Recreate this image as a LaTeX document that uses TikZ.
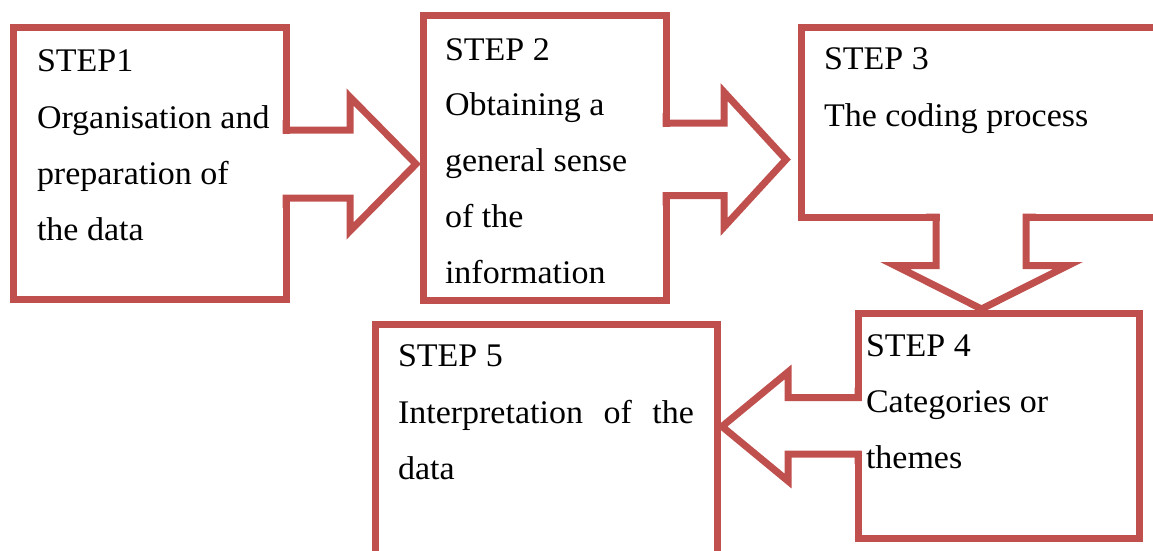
\documentclass[tikz,border=0pt]{standalone}
\usepackage{fontspec}
\setmainfont{Liberation Serif}[FakeStretch=1.03]
\usetikzlibrary{calc}
\definecolor{boxred}{HTML}{C0504D}
\tikzset{
  stepbox/.style={draw=boxred, line width=7pt, rectangle, inner sep=0pt, outer sep=0pt, fill=white},
  steptext/.style={anchor=base west, inner sep=0pt, outer sep=0pt, font=\fontsize{33}{56.3}\selectfont, text=black},
  blockarrow/.style={draw=boxred, line width=7pt, miter limit=20},
  gapfill/.style={fill=white},
}
\newcommand\steplines[1]{\vtop{\baselineskip=56.3pt #1}}
\begin{document}
\begin{tikzpicture}[x=1pt,y=-1pt]
\useasboundingbox (0,0) rectangle (1153,551);
\clip (0,0) rectangle (1153,551);
% boxes
\node[stepbox, minimum width=273pt, minimum height=271pt] (s1) at (149.5,163.5) {};
\node[stepbox, minimum width=243pt, minimum height=284pt] (s2) at (544.5,158) {};
\node[stepbox, minimum width=374pt, minimum height=189pt] (s3) at (988,122.5) {};
\node[stepbox, minimum width=281pt, minimum height=225pt] (s4) at (998.5,425.5) {};
\node[stepbox, minimum width=342pt, minimum height=251pt] (s5) at (546,449.5) {};
% arrow tips
\coordinate (a1tip) at (416,164);
\coordinate (a2tip) at (786,159.5);
\coordinate (a3tip) at (981.5,309);
\coordinate (a4tip) at (722,426.5);
% arrow 1: s1 -> s2
\fill[gapfill] ($(s1.east |- 0,130)+(-4,3.5)$) rectangle ($(s1.east |- 0,198)+(6,-3.5)$);
\draw[blockarrow] ($(s1.east |- 0,130)+(0,-10)$) -- (s1.east |- 0,130) -- (350,130) -- (350,97)
  -- (a1tip) -- (350,231) -- (350,198) -- (s1.east |- 0,198) -- ++(0,10);
% arrow 2: s2 -> s3
\fill[gapfill] ($(s2.east |- 0,123)+(-4,3.5)$) rectangle ($(s2.east |- 0,195.5)+(6,-3.5)$);
\draw[blockarrow] ($(s2.east |- 0,123)+(0,-10)$) -- (s2.east |- 0,123) -- (724,123) -- (724,92)
  -- (a2tip) -- (724,227) -- (724,195.5) -- (s2.east |- 0,195.5) -- ++(0,10);
% arrow 3: s3 -> s4
\fill[gapfill] ($(s3.south -| 936,0)+(3.5,-4)$) rectangle ($(s3.south -| 1026,0)+(-3.5,6)$);
\draw[blockarrow] ($(s3.south -| 936,0)+(-10,0)$) -- (s3.south -| 936,0) -- (936,265.5) -- (895,265.5)
  -- (a3tip) -- (1068,265.5) -- (1026,265.5) -- (s3.south -| 1026,0) -- ++(10,0);
% arrow 4: s4 -> s5
\fill[gapfill] ($(s4.west |- 0,397.5)+(4,3.5)$) rectangle ($(s4.west |- 0,454)+(-6,-3.5)$);
\draw[blockarrow] ($(s4.west |- 0,397.5)+(0,-10)$) -- (s4.west |- 0,397.5) -- (788,397.5) -- (788,372)
  -- (a4tip) -- (788,481) -- (788,454) -- (s4.west |- 0,454) -- ++(0,10);
% texts
\node[steptext] (t1) at (37,71.7) {\steplines{\hbox{STEP1}\hbox{Organisation and}\hbox{preparation of}\hbox{the data}}};
\node[steptext] (t2) at (445,60) {\vtop{\baselineskip=55.8pt \hbox{STEP 2}\hbox{Obtaining a}\hbox{general sense}\hbox{of the}\hbox{information}}};
\node[steptext] (t3) at (824,70) {\steplines{\hbox{STEP 3}\hbox{The coding process}}};
\node[steptext] (t4) at (866,356) {\steplines{\hbox{STEP 4}\hbox{Categories or}\hbox{themes}}};
\node[steptext] (t5) at (398,366.7) {\steplines{\hbox{STEP 5}\hbox to 296pt{Interpretation\hfil of\hfil the}\hbox{data}}};
\end{tikzpicture}
\end{document}
